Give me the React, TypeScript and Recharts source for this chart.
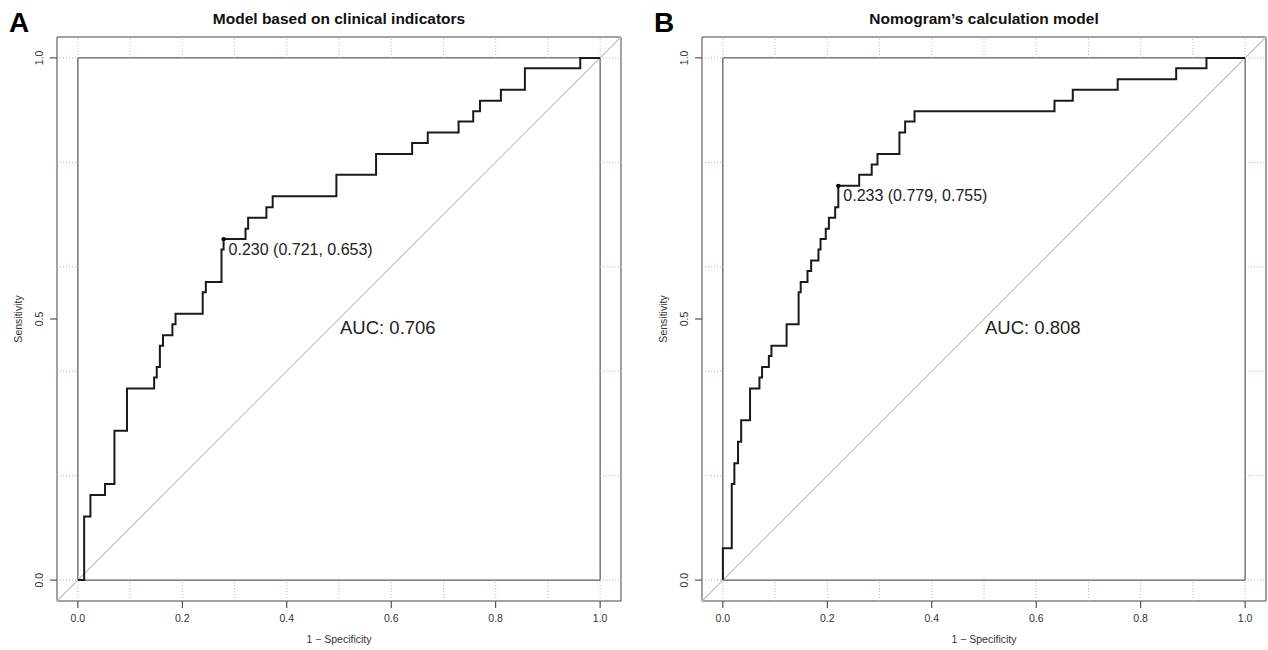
import React from 'react';
import {
  ComposedChart,
  Line,
  XAxis,
  YAxis,
  ReferenceLine,
  ReferenceArea,
  ReferenceDot,
} from 'recharts';

// ---------- data ----------
const fprA = [0, 0.012, 0.024, 0.052, 0.07, 0.094, 0.146, 0.151, 0.157, 0.163, 0.181, 0.187, 0.239, 0.245, 0.275, 0.279, 0.321, 0.326, 0.361, 0.373, 0.495, 0.571, 0.64, 0.67, 0.729, 0.757, 0.77, 0.81, 0.856, 0.962, 1.0];
const sensA = [0, 0.122, 0.163, 0.184, 0.286, 0.367, 0.388, 0.408, 0.449, 0.469, 0.49, 0.51, 0.551, 0.571, 0.633, 0.653, 0.673, 0.694, 0.714, 0.735, 0.776, 0.816, 0.837, 0.857, 0.878, 0.898, 0.918, 0.939, 0.98, 1.0, 1.0];

const fprB = [0, 0, 0.017, 0.022, 0.029, 0.035, 0.052, 0.07, 0.075, 0.088, 0.093, 0.122, 0.145, 0.149, 0.162, 0.169, 0.183, 0.187, 0.197, 0.203, 0.215, 0.221, 0.261, 0.285, 0.296, 0.338, 0.349, 0.367, 0.635, 0.67, 0.756, 0.868, 0.926, 1.0];
const sensB = [0, 0.061, 0.184, 0.224, 0.265, 0.306, 0.367, 0.388, 0.408, 0.429, 0.449, 0.49, 0.551, 0.571, 0.592, 0.612, 0.633, 0.653, 0.673, 0.694, 0.714, 0.755, 0.776, 0.796, 0.816, 0.857, 0.878, 0.898, 0.918, 0.939, 0.959, 0.98, 1.0, 1.0];

const titles = ['Model based on clinical indicators', 'Nomogram\u2019s calculation model'];
const letters = ['A', 'B'];
const aucLabels = ['AUC: 0.706', 'AUC: 0.808'];
const aucPos = [0.5, 0.5];
const thresholdFpr = [0.279, 0.221];
const thresholdSens = [0.653, 0.755];
const thresholdLabels = ['0.230 (0.721, 0.653)', '0.233 (0.779, 0.755)'];

const xTicks = [0, 0.2, 0.4, 0.6, 0.8, 1.0];
const yTicks = [0, 0.5, 1.0];
const greenGrid = [0, 0.1, 0.2, 0.3, 0.4, 0.5, 0.6, 0.7, 0.8, 0.9, 1.0];
const redGrid = [0, 0.2, 0.4, 0.6, 0.8, 1.0];
const LO = -0.04;
const HI = 1.04;

const FONT = "'Liberation Sans', Arial, Helvetica, sans-serif";

const buildRows = (fpr: number[], sens: number[]) =>
  fpr.map((f, i) => ({ fpr: f, sens: sens[i] }));

const XTick = (props: any) => {
  const { x, y, payload } = props;
  return (
    <text x={x} y={y + 12} textAnchor="middle" fontSize={10.5} fill="#333" fontFamily={FONT}>
      {Number(payload.value).toFixed(1)}
    </text>
  );
};

const YTick = (props: any) => {
  const { x, y, payload } = props;
  const tx = x - 5;
  return (
    <text
      x={tx}
      y={y}
      transform={`rotate(-90, ${tx}, ${y})`}
      textAnchor="middle"
      fontSize={10.5}
      fill="#333"
      fontFamily={FONT}
    >
      {Number(payload.value).toFixed(1)}
    </text>
  );
};

type PanelProps = {
  idx: number;
  left: number;
  width: number;
  marginRight: number;
  fpr: number[];
  sens: number[];
};

const Panel = ({ idx, left, width, marginRight, fpr, sens }: PanelProps) => {
  const rows = buildRows(fpr, sens);
  const plotLeft = 57;
  const plotRight = width - marginRight;
  const cx = (plotLeft + plotRight) / 2;
  return (
    <div style={{ position: 'absolute', left, top: 0, width, height: 650 }}>
      <ComposedChart
        width={width}
        height={650}
        data={rows}
        margin={{ top: 37, right: marginRight, bottom: 4, left: 17 }}
      >
        <XAxis
          dataKey="fpr"
          type="number"
          domain={[LO, HI]}
          ticks={xTicks}
          allowDataOverflow
          axisLine={false}
          tickLine={{ stroke: '#333' }}
          tickSize={7}
          tickMargin={2}
          height={45}
          tick={<XTick />}
          label={{
            value: '1 \u2212 Specificity',
            position: 'insideBottom',
            offset: 3,
            style: { fontSize: 10.5, fill: '#333', fontFamily: FONT },
          }}
        />
        <YAxis
          dataKey="sens"
          type="number"
          domain={[LO, HI]}
          ticks={yTicks}
          allowDataOverflow
          axisLine={false}
          tickLine={{ stroke: '#333' }}
          tickSize={7}
          tickMargin={2}
          width={40}
          tick={<YTick />}
        />
        {greenGrid.map((g) => (
          <ReferenceLine
            key={`gt${g}`}
            segment={[{ x: g, y: 1 }, { x: g, y: HI }]}
            stroke="#7ee07e"
            strokeDasharray="1 2"
            ifOverflow="visible"
          />
        ))}
        {greenGrid.map((g) => (
          <ReferenceLine
            key={`gb${g}`}
            segment={[{ x: g, y: LO }, { x: g, y: 0 }]}
            stroke="#7ee07e"
            strokeDasharray="1 2"
            ifOverflow="visible"
          />
        ))}
        {redGrid.map((g) => (
          <ReferenceLine
            key={`rl${g}`}
            segment={[{ x: LO, y: g }, { x: 0, y: g }]}
            stroke="#ff8f8f"
            strokeDasharray="1 2"
            ifOverflow="visible"
          />
        ))}
        {redGrid.map((g) => (
          <ReferenceLine
            key={`rr${g}`}
            segment={[{ x: 1, y: g }, { x: HI, y: g }]}
            stroke="#ff8f8f"
            strokeDasharray="1 2"
            ifOverflow="visible"
          />
        ))}
        <ReferenceArea
          x1={LO}
          x2={HI}
          y1={LO}
          y2={HI}
          fill="#fff"
          fillOpacity={0}
          stroke="#444"
          strokeWidth={1}
          ifOverflow="visible"
        />
        <ReferenceArea
          x1={0}
          x2={1}
          y1={0}
          y2={1}
          fill="#fff"
          fillOpacity={0}
          stroke="#333"
          strokeWidth={1}
          ifOverflow="visible"
        />
        <ReferenceLine
          segment={[{ x: LO, y: LO }, { x: HI, y: HI }]}
          stroke="#c2c2c2"
          strokeWidth={1.2}
          ifOverflow="visible"
        />
        <Line
          dataKey="sens"
          type="stepAfter"
          stroke="#1a1a1a"
          strokeWidth={2}
          dot={false}
          activeDot={false}
          isAnimationActive={false}
        />
        <ReferenceDot
          x={thresholdFpr[idx]}
          y={thresholdSens[idx]}
          r={2.2}
          ifOverflow="visible"
          shape={(p: any) => (
            <g>
              <circle cx={p.cx} cy={p.cy} r={2.2} fill="#000" />
              <text x={p.cx + 5} y={p.cy + 15.5} fontSize={16} fill="#222" fontFamily={FONT}>
                {thresholdLabels[idx]}
              </text>
            </g>
          )}
        />
        <ReferenceDot
          x={aucPos[idx]}
          y={aucPos[idx]}
          r={1}
          ifOverflow="visible"
          shape={(p: any) => (
            <text x={p.cx + 1} y={p.cy + 15} fontSize={18.5} fill="#222" fontFamily={FONT}>
              {aucLabels[idx]}
            </text>
          )}
        />
        <text x={cx} y={24} textAnchor="middle" fontSize={15.5} fontWeight="bold" fill="#111" fontFamily={FONT}>
          {titles[idx]}
        </text>
        <text x={9} y={32} fontSize={28} fontWeight="bold" fill="#000" fontFamily={FONT}>
          {letters[idx]}
        </text>
        <text
          x={22}
          y={319}
          transform="rotate(-90, 22, 319)"
          textAnchor="middle"
          fontSize={10.5}
          fill="#333"
          fontFamily={FONT}
        >
          Sensitivity
        </text>
      </ComposedChart>
    </div>
  );
}

export default function App() {
  return (
    <div
      style={{
        position: 'absolute',
        left: 0,
        top: 0,
        width: 1268,
        height: 650,
        background: '#fff',
        overflow: 'hidden',
      }}
    >
      <Panel idx={0} left={0} width={640} marginRight={19} fpr={fprA} sens={sensA} />
      <Panel idx={1} left={645} width={623} marginRight={2} fpr={fprB} sens={sensB} />
    </div>
  );
}
